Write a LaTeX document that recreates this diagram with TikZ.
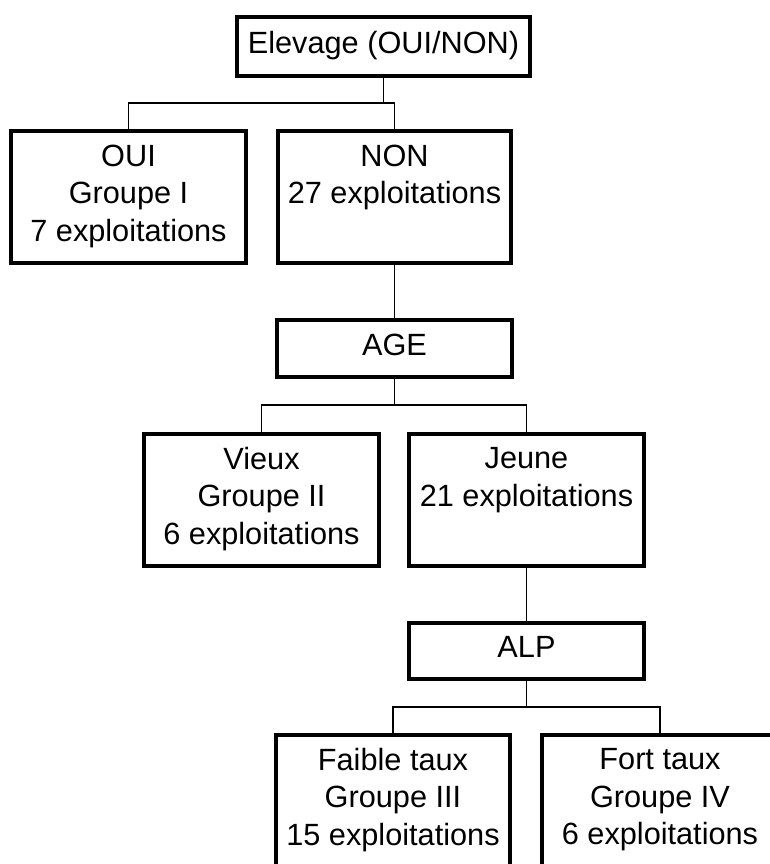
\documentclass[tikz,border=0pt]{standalone}
\usepackage{fontspec}
\setmainfont{Liberation Sans}
\newcommand\mystrut{\rule[-8pt]{0pt}{29.5pt}}
\begin{document}
\begin{tikzpicture}[x=1pt,y=-1pt,
  box/.style={draw, line width=4pt, inner sep=0pt, align=center,
    minimum width=235pt, font=\fontsize{30.7}{37.5}\selectfont},
  tall/.style={box, minimum height=132pt},
  short/.style={box, minimum height=57pt},
  link/.style={line width=1.5pt}]
\useasboundingbox (0,0) rectangle (770,864);
\clip (0,0) rectangle (770,864);
\fill[white] (0,0) rectangle (770,864);

\node[box, minimum width=293pt, minimum height=59pt] (elev) at (383.5,46.5) {\mystrut Elevage (OUI/NON)};
\node[tall] (oui) at (128.5,197) {\mystrut OUI\\\mystrut Groupe I\\\mystrut 7 exploitations};
\node[tall, minimum width=233pt] (non) at (394.5,197) {\mystrut NON\\\mystrut 27 exploitations\\\mystrut};
\node[short] (age) at (394.5,348.5) {\mystrut AGE};
\node[tall] (vieux) at (261.5,499.5) {\mystrut Vieux\\\mystrut Groupe II\\\mystrut 6 exploitations};
\node[tall] (jeune) at (526.5,499.5) {\mystrut Jeune\\\mystrut 21 exploitations\\\mystrut};
\node[short, minimum height=56pt] (alp) at (526.5,651) {\mystrut ALP};
\node[tall, minimum width=234pt] (faible) at (393,800.5) {\mystrut Faible taux\\\mystrut Groupe III\\\mystrut 15 exploitations};
\node[tall, minimum width=236pt] (fort) at (660,800.5) {\mystrut Fort taux\\\mystrut Groupe IV\\\mystrut 6 exploitations};

\coordinate (b1) at (0,103);
\coordinate (b2) at (0,405);
\coordinate (b3) at (0,707);

\draw[link] (elev.south) -- (elev.south |- b1);
\draw[link] (oui.north) -- (oui.north |- b1) -- (non.north |- b1) -- (non.north);
\draw[link] (non.south) -- (age.north);
\draw[link] (age.south) -- (age.south |- b2);
\draw[link] (vieux.north) -- (vieux.north |- b2) -- (jeune.north |- b2) -- (jeune.north);
\draw[link] (jeune.south) -- (alp.north);
\draw[link] (alp.south) -- (alp.south |- b3);
\draw[link] (faible.north) -- (faible.north |- b3) -- (fort.north |- b3) -- (fort.north);
\end{tikzpicture}
\end{document}
